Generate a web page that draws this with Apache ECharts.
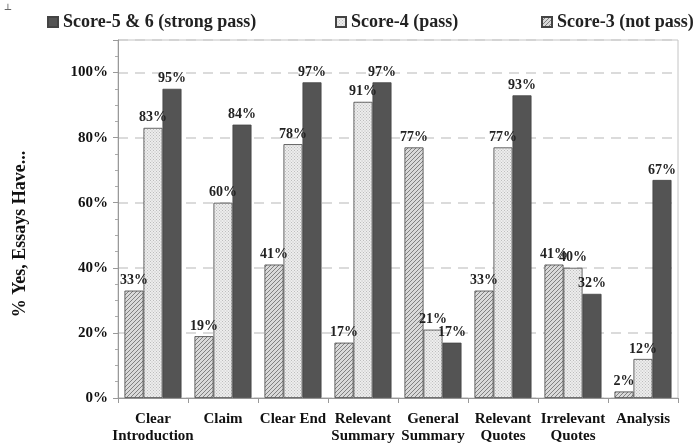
<!DOCTYPE html>
<html><head><meta charset="utf-8">
<script src="https://cdn.jsdelivr.net/npm/echarts@6/dist/echarts.min.js"></script>
<style>html,body{margin:0;padding:0;background:#fff}#c{width:695px;height:445px}</style>
</head><body><div id="c"></div>
<script>
const categories = ['Clear\nIntroduction','Claim','Clear End','Relevant\nSummary','General\nSummary','Relevant\nQuotes','Irrelevant\nQuotes','Analysis'];
const score3 = [33, 19, 41, 17, 77, 33, 41, 2];
const score4 = [83, 60, 78, 91, 21, 77, 40, 12];
const score56 = [95, 84, 97, 97, 17, 93, 32, 67];
const yTicks = [0, 20, 40, 60, 80, 100];
const names = ['Score-3 (not pass)', 'Score-4 (pass)', 'Score-5 & 6 (strong pass)'];

function hatch() {
  const c = document.createElement('canvas'); c.width = 4; c.height = 4;
  const g = c.getContext('2d');
  g.fillStyle = '#dadada'; g.fillRect(0,0,4,4);
  g.strokeStyle = '#777'; g.lineWidth = 0.9;
  g.beginPath();
  g.moveTo(0,4); g.lineTo(4,0);
  g.moveTo(-1,1); g.lineTo(1,-1);
  g.moveTo(3,5); g.lineTo(5,3);
  g.stroke();
  return c;
}
function dots() {
  const c = document.createElement('canvas'); c.width = 3; c.height = 3;
  const g = c.getContext('2d');
  g.fillStyle = '#ededed'; g.fillRect(0,0,3,3);
  g.fillStyle = '#bdbdbd'; g.fillRect(0,0,1,1); g.fillRect(1.5,1.5,1,1);
  return c;
}
const fills = [{image: hatch(), repeat: 'repeat'}, {image: dots(), repeat: 'repeat'}, '#545454'];
const series = [score3, score4, score56];
const serif = '"Liberation Serif", "Times New Roman", serif';

const chart = echarts.init(document.getElementById('c'));
chart.setOption({
  animation: false,
  backgroundColor: '#fff',
  grid: {left: 118, right: 17, top: 40, bottom: 45, show: true, borderColor: '#c4c4c4', borderWidth: 1},
  legend: [
    {data: [names[2]], left: 42, top: 8},
    {data: [names[1]], left: 330, top: 8},
    {data: [names[0]], left: 536, top: 8}
  ].map(l => Object.assign(l, {icon: 'rect', itemWidth: 10, itemHeight: 10, itemGap: 5,
      textStyle: {fontFamily: serif, fontWeight: 'bold', fontSize: 18, color: '#222'}})),
  xAxis: {
    type: 'category', data: categories,
    axisLine: {lineStyle: {color: '#999'}},
    axisTick: {show: true, length: 5, lineStyle: {color: '#999'}},
    axisLabel: {fontFamily: serif, fontWeight: 'bold', fontSize: 15, color: '#111', lineHeight: 17, margin: 13, interval: 0}
  },
  yAxis: {
    type: 'value', min: 0, max: 110, interval: 20,
    axisLine: {show: true, lineStyle: {color: '#999'}},
    axisTick: {show: true, length: 5, lineStyle: {color: '#999'}},
    minorTick: {show: true, splitNumber: 4, length: 3, lineStyle: {color: '#aaa'}},
    splitLine: {show: true, lineStyle: {color: '#d0d0d0', type: [10, 7], width: 1.5}},
    axisLabel: {fontFamily: serif, fontWeight: 'bold', fontSize: 15, color: '#111', margin: 10,
      formatter: v => yTicks.includes(v) ? v + '%' : ''}
  },
  graphic: [
    {type: 'text', x: 20, y: 234, rotation: Math.PI / 2,
     style: {text: '% Yes, Essays Have...', font: 'bold 18px ' + serif, fill: '#111', align: 'center', verticalAlign: 'middle'}},
    {type: 'text', x: 8, y: 10, style: {text: '┴', font: '9px ' + serif, fill: '#333', align: 'center', verticalAlign: 'middle'}}
  ],
  series: series.map((d, i) => ({
    name: names[i], type: 'bar', data: d,
    barWidth: 19, barGap: '0%',
    itemStyle: {color: fills[i], borderColor: '#444', borderWidth: 0.8},
    label: {show: true, position: 'top', formatter: '{c}%', distance: 3,
      fontFamily: serif, fontWeight: 'bold', fontSize: 14, color: '#222'}
  }))
});
</script></body></html>
